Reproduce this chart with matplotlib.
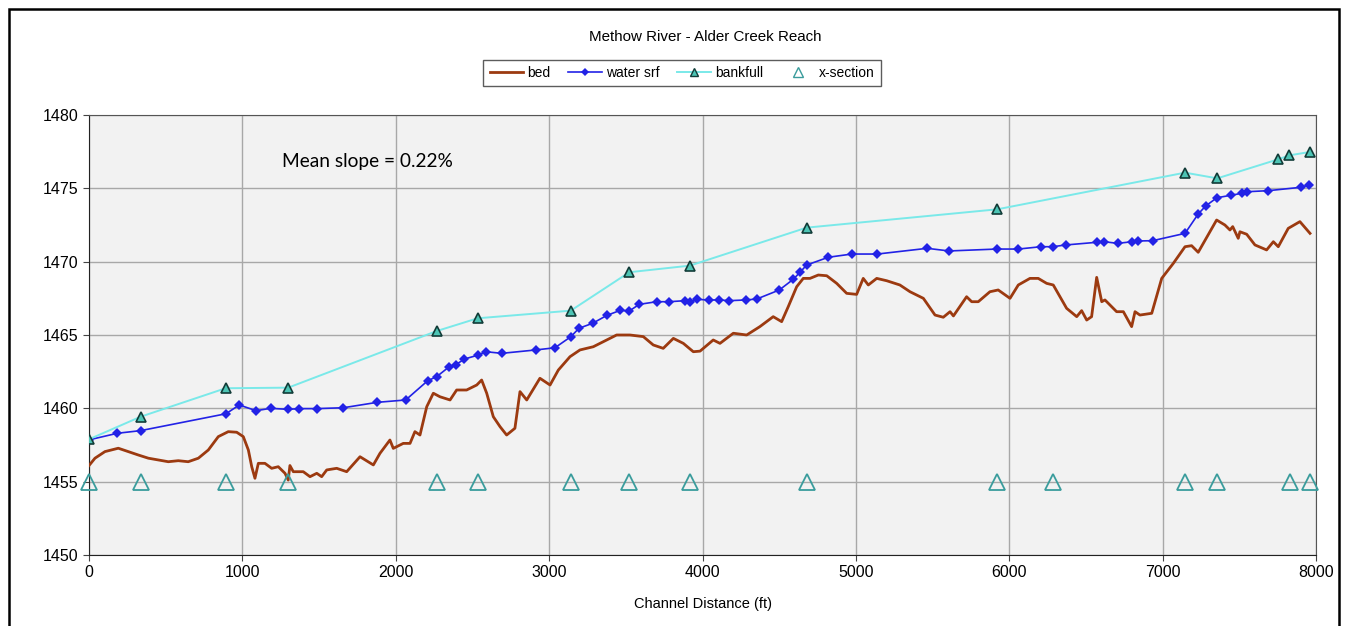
import matplotlib

matplotlib.use("Agg")
import matplotlib.pyplot as plt
from matplotlib.lines import Line2D
from matplotlib.patches import Rectangle

plt.rcParams["font.family"] = ["Liberation Sans", "DejaVu Sans"]

# channel bed profile (ft, elevation)
bed_x = [0, 39, 104, 191, 256, 321, 387, 452, 517, 582, 647, 713, 778, 843, 908, 963,
         1006, 1039, 1061, 1082, 1104, 1147, 1191, 1234, 1278, 1299, 1310, 1332, 1397,
         1441, 1485, 1517, 1550, 1615, 1680, 1767, 1854, 1897, 1962, 1984, 2049, 2093,
         2125, 2158, 2202, 2245, 2288, 2354, 2397, 2462, 2528, 2560, 2593, 2636, 2680,
         2723, 2777, 2810, 2854, 2940, 3006, 3060, 3136, 3201, 3288, 3375, 3440, 3527,
         3614, 3679, 3744, 3810, 3875, 3940, 3984, 4070, 4114, 4201, 4288, 4374, 4461,
         4516, 4559, 4614, 4657, 4701, 4755, 4810, 4875, 4940, 5005, 5048, 5081, 5136,
         5201, 5287, 5353, 5440, 5516, 5570, 5614, 5636, 5722, 5755, 5798, 5874, 5928,
         6005, 6059, 6135, 6189, 6244, 6287, 6374, 6440, 6472, 6505, 6537, 6570, 6603,
         6624, 6700, 6744, 6798, 6820, 6852, 6929, 6994, 7070, 7146, 7189, 7232, 7352,
         7406, 7439, 7457, 7493, 7504, 7548, 7602, 7678, 7722, 7754, 7819, 7895, 7961]
bed_z = [1456.1, 1456.6, 1457.05, 1457.28, 1457.05, 1456.82, 1456.6, 1456.48, 1456.36,
         1456.43, 1456.36, 1456.6, 1457.16, 1458.07, 1458.41, 1458.37, 1458.07, 1457.16,
         1456.02, 1455.23, 1456.25, 1456.25, 1455.91, 1456.02, 1455.57, 1455.11, 1456.1,
         1455.68, 1455.68, 1455.34, 1455.57, 1455.34, 1455.8, 1455.91, 1455.68, 1456.7,
         1456.14, 1456.93, 1457.84, 1457.27, 1457.61, 1457.61, 1458.41, 1458.18, 1460.11,
         1461.03, 1460.79, 1460.57, 1461.25, 1461.25, 1461.59, 1461.93, 1461.03, 1459.43,
         1458.75, 1458.18, 1458.64, 1461.14, 1460.57, 1462.05, 1461.59, 1462.61, 1463.52,
         1463.98, 1464.2, 1464.66, 1465.0, 1465.0, 1464.89, 1464.32, 1464.09, 1464.77,
         1464.43, 1463.86, 1463.9, 1464.66, 1464.43, 1465.12, 1465.0, 1465.57, 1466.25,
         1465.91, 1466.93, 1468.29, 1468.86, 1468.86, 1469.09, 1469.04, 1468.52, 1467.84,
         1467.77, 1468.86, 1468.41, 1468.86, 1468.7, 1468.41, 1467.95, 1467.5, 1466.36,
         1466.21, 1466.59, 1466.3, 1467.61, 1467.27, 1467.27, 1467.95, 1468.07, 1467.5,
         1468.41, 1468.86, 1468.86, 1468.52, 1468.41, 1466.82, 1466.25, 1466.66, 1466.02,
         1466.25, 1468.93, 1467.27, 1467.39, 1466.59, 1466.59, 1465.57, 1466.59, 1466.36,
         1466.48, 1468.86, 1469.89, 1471.02, 1471.09, 1470.64, 1472.84, 1472.5, 1472.16,
         1472.39, 1471.59, 1472.04, 1471.87, 1471.14, 1470.8, 1471.36, 1471.02, 1472.27,
         1472.73, 1471.93]

# water surface survey points
wse_x = [0, 185, 337, 893, 980, 1089, 1185, 1299, 1369, 1485, 1658, 1880, 2065, 2208,
         2267, 2349, 2393, 2447, 2534, 2588, 2691, 2912, 3038, 3141, 3195, 3284, 3377,
         3464, 3523, 3588, 3701, 3784, 3886, 3918, 3962, 4042, 4109, 4175, 4282, 4353,
         4501, 4592, 4636, 4679, 4820, 4973, 5140, 5465, 5607, 5918, 6059, 6207, 6283,
         6370, 6570, 6618, 6707, 6802, 6837, 6935, 7146, 7232, 7281, 7354, 7448, 7515,
         7552, 7689, 7900, 7956]
wse_z = [1457.85, 1458.3, 1458.48, 1459.63, 1460.23, 1459.84, 1460.0, 1459.93, 1459.98,
         1459.98, 1460.04, 1460.41, 1460.57, 1461.88, 1462.16, 1462.84, 1462.98, 1463.36,
         1463.62, 1463.86, 1463.75, 1463.98, 1464.13, 1464.88, 1465.46, 1465.8, 1466.34,
         1466.68, 1466.64, 1467.09, 1467.27, 1467.27, 1467.34, 1467.23, 1467.43, 1467.39,
         1467.39, 1467.34, 1467.39, 1467.45, 1468.07, 1468.8, 1469.28, 1469.77, 1470.3,
         1470.52, 1470.52, 1470.91, 1470.73, 1470.86, 1470.86, 1471.02, 1471.02, 1471.14,
         1471.32, 1471.36, 1471.25, 1471.36, 1471.41, 1471.43, 1471.93, 1473.25, 1473.8,
         1474.36, 1474.53, 1474.66, 1474.77, 1474.84, 1475.07, 1475.23]

# bankfull elevations
bkf_x = [0, 337, 891, 1299, 2267, 2534, 3141, 3523, 3918, 4679, 5922, 7146, 7356,
         7754, 7826, 7961]
bkf_z = [1457.89, 1459.43, 1461.37, 1461.41, 1465.27, 1466.14, 1466.66, 1469.28,
         1469.73, 1472.32, 1473.57, 1476.07, 1475.68, 1476.98, 1477.25, 1477.48]

# cross-section stations
xs_x = [0, 337, 891, 1299, 2267, 2534, 3141, 3523, 3918, 4679, 5920, 6283, 7146, 7354,
        7830, 7961]
xs_z = [1455] * len(xs_x)

fig = plt.figure(figsize=(13.46, 6.26), dpi=100)
fig.patches.append(Rectangle((9 / 1346, -0.05), 1330 / 1346, 1.05 - 9 / 626,
                             transform=fig.transFigure, fill=False,
                             edgecolor="black", linewidth=1.8))
ax = fig.add_axes([89 / 1346, 71 / 626, 1227 / 1346, 440 / 626])
ax.set_facecolor("#f2f2f2")

ax.plot(bed_x, bed_z, color="#9c3a10", linewidth=2.0, label="bed", zorder=3)
ax.plot(wse_x, wse_z, color="#2222e6", linewidth=1.2, marker="D", markersize=5,
        markeredgewidth=0, label="water srf", zorder=4)
ax.plot(bkf_x, bkf_z, color="#7ae9e9", linewidth=1.4, marker="^", markersize=6.5,
        markerfacecolor="#4cc4b4", markeredgecolor="#123c38", markeredgewidth=1.2,
        label="bankfull", zorder=5)
ax.plot(xs_x, xs_z, linestyle="none", marker="^", markersize=11,
        markerfacecolor="none", markeredgecolor="#3a9c9c", markeredgewidth=1.3,
        label="x-section", zorder=6, clip_on=False)

ax.set_xlim(0, 8000)
ax.set_ylim(1450, 1480)
ax.set_xticks(range(0, 8001, 1000))
ax.set_yticks(range(1450, 1481, 5))
ax.grid(True, color="#a8a8a8", linewidth=1.0)
ax.set_axisbelow(True)
for side in ["top", "right"]:
    ax.spines[side].set_color("#555555")
for side in ["left", "bottom"]:
    ax.spines[side].set_color("#222222")
ax.tick_params(labelsize=11.5, length=4, color="#444444")

ax.set_xlabel("Channel Distance (ft)", fontsize=10.5, labelpad=12)
fig.text(705 / 1346, 1 - 37 / 626, "Methow River - Alder Creek Reach",
         ha="center", va="center", fontsize=10.9)
ax.text(1258, 1476.8, "Mean slope = 0.22%", fontsize=13.8, va="center",
        family=["Lato", "DejaVu Sans"])

handles = [
    Line2D([], [], color="#9c3a10", linewidth=2.0),
    Line2D([], [], color="#2222e6", linewidth=1.2, marker="D", markersize=4,
           markeredgewidth=0),
    Line2D([], [], color="#7ae9e9", linewidth=1.4, marker="^", markersize=5.5,
           markerfacecolor="#4cc4b4", markeredgecolor="#123c38", markeredgewidth=1.0),
    Line2D([], [], linestyle="none", marker="^", markersize=6.5,
           markerfacecolor="none", markeredgecolor="#3a9c9c", markeredgewidth=1.0),
]
leg = fig.legend(handles, ["bed", "water srf", "bankfull", "x-section"], ncol=4,
                 loc="center", bbox_to_anchor=(682 / 1346, 1 - 73 / 626),
                 fontsize=10, frameon=True, fancybox=False, handlelength=2.4,
                 handletextpad=0.3, columnspacing=1.3, borderpad=0.45)
leg.get_frame().set_edgecolor("#333333")
leg.get_frame().set_linewidth(1.0)

fig.savefig("out.png", dpi=100)
